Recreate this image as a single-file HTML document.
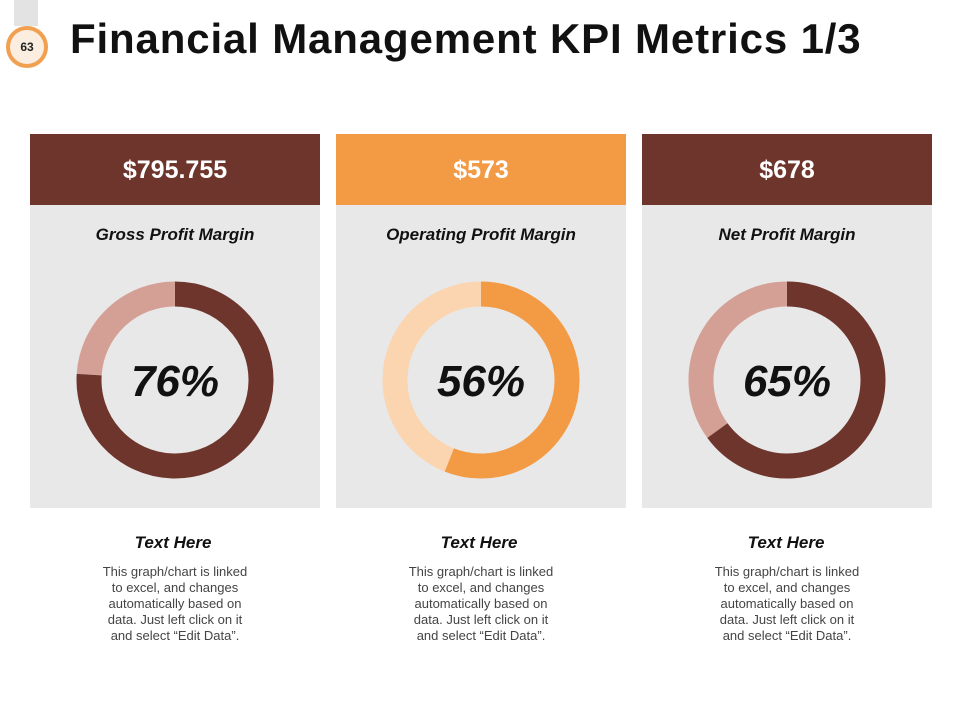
<!DOCTYPE html>
<html><head><meta charset="utf-8"><style>
body{margin:0;width:960px;height:720px;background:#fff;position:relative;overflow:hidden;font-family:"Liberation Sans",sans-serif}
.abs{position:absolute}
.card{position:absolute;top:134px;width:290px;height:374px;background:#e8e8e8}
.hdr{height:71px;color:#fff;font-weight:bold;font-size:25px;text-align:center;line-height:72px}
.sub{font-style:italic;font-weight:bold;font-size:17px;text-align:center;margin-top:20px;color:#111}
.th{position:absolute;top:533px;width:290px;text-align:center;font-style:italic;font-weight:bold;font-size:17px;color:#111}
.desc{position:absolute;top:564px;width:290px;text-align:center;font-size:13px;line-height:16px;color:#444}
svg text{font-family:"Liberation Sans",sans-serif;font-weight:bold;font-style:italic}
</style></head><body>
<div class="abs" style="left:14px;top:0;width:24px;height:26px;background:#e3e3e3"></div>
<div class="abs" style="left:6px;top:26px;width:34px;height:34px;border:4px solid #f0a050;border-radius:50%;background:#fbeee0;text-align:center;line-height:34px;font-weight:bold;font-size:12px;color:#222">63</div>
<div class="abs" style="left:70px;top:15px;font-size:42px;font-weight:bold;color:#111;letter-spacing:0.85px">Financial Management KPI Metrics 1/3</div>

<div class="card" style="left:30px"><div class="hdr" style="background:#6e352d">$795.755</div><div class="sub">Gross Profit Margin</div></div>
<div class="card" style="left:336px"><div class="hdr" style="background:#f39a45">$573</div><div class="sub">Operating Profit Margin</div></div>
<div class="card" style="left:642px"><div class="hdr" style="background:#6e352d">$678</div><div class="sub">Net Profit Margin</div></div>

<svg id="donuts" class="abs" style="left:0;top:0" width="960" height="720"></svg>

<div class="th" style="left:28px">Text Here</div>
<div class="th" style="left:334px">Text Here</div>
<div class="th" style="left:641px">Text Here</div>
<div class="desc" style="left:30px">This graph/chart is linked<br>to excel, and changes<br>automatically based on<br>data. Just left click on it<br>and select “Edit Data”.</div>
<div class="desc" style="left:336px">This graph/chart is linked<br>to excel, and changes<br>automatically based on<br>data. Just left click on it<br>and select “Edit Data”.</div>
<div class="desc" style="left:642px">This graph/chart is linked<br>to excel, and changes<br>automatically based on<br>data. Just left click on it<br>and select “Edit Data”.</div>

<script>
const categories=["gross","operating","net"];
const values=[76,56,65];
const mainColors=["#6e352d","#f39a45","#6e352d"];
const restColors=["#d4a096","#fbd5b0","#d4a096"];
const centers=[175,481,787];
const cy=380,R=86,W=25;
const svg=document.getElementById('donuts');
const NS="http://www.w3.org/2000/svg";
function arc(cx,a0,a1){
  const p=a=>[cx+R*Math.sin(a),cy-R*Math.cos(a)];
  const [x0,y0]=p(a0),[x1,y1]=p(a1);
  const large=(a1-a0)>Math.PI?1:0;
  return `M${x0} ${y0} A${R} ${R} 0 ${large} 1 ${x1} ${y1}`;
}
categories.forEach((c,i)=>{
  const cx=centers[i];
  const ang=values[i]/100*2*Math.PI;
  const rest=document.createElementNS(NS,'path');
  
  
  rest.setAttribute('d',arc(cx,ang,2*Math.PI-0.0001));
  rest.setAttribute('fill','none');rest.setAttribute('stroke',restColors[i]);rest.setAttribute('stroke-width',W);
  svg.appendChild(rest);
  const main=document.createElementNS(NS,'path');
  
  
  main.setAttribute('d',arc(cx,0,ang));
  main.setAttribute('fill','none');main.setAttribute('stroke',mainColors[i]);main.setAttribute('stroke-width',W);
  svg.appendChild(main);
  const t=document.createElementNS(NS,'text');
  
  
  t.setAttribute('x',cx);t.setAttribute('y',cy+16);t.setAttribute('text-anchor','middle');
  t.setAttribute('font-size','44');t.setAttribute('fill','#111');
  t.textContent=values[i]+'%';
  svg.appendChild(t);
});
</script>
</body></html>
